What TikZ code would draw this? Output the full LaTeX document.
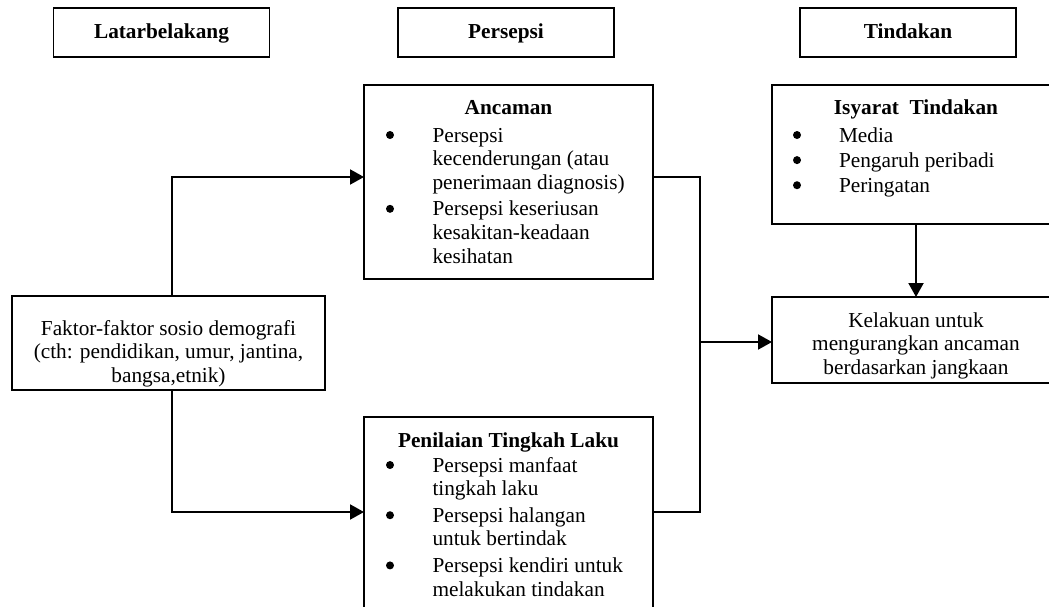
\documentclass[tikz,border=0pt]{standalone}
\usepackage{fontspec}
\setmainfont{Liberation Serif}
\usetikzlibrary{arrows.meta}
% round list marker, drawn as a filled dot on the text baseline
\newcommand{\listdot}{\tikz[baseline=0pt]\fill[black] (0pt,7pt) circle[radius=4pt];}
\begin{document}
\begin{tikzpicture}[x=1pt,y=-1pt,
  every node/.style={font=\fontsize{21.3}{23.6}\selectfont, inner sep=0pt, outer sep=0pt},
  box/.style={draw=black, line width=1.1pt, fill=none},
  headbox/.style={box, minimum width=216pt, minimum height=49pt,
    text height=15pt, text depth=2pt, font=\fontsize{21.3}{23.6}\selectfont\bfseries},
  body/.style={anchor=north west, align=left},
  title/.style={anchor=base, font=\fontsize{21.3}{23.6}\selectfont\bfseries},
  conn/.style={line width=2pt, draw=black},
  arrow/.style={conn, -{Triangle[length=14pt,width=15pt]}}]

\useasboundingbox (0,0) rectangle (1049,607);

% column headings
\node[headbox] (hlatar) at (161.5,32.5) {Latarbelakang};
\node[headbox] (hpersepsi) at (506,32.5) {Persepsi};
\node[headbox] (htindakan) at (908,32.5) {Tindakan};

% boxes
\node[box, minimum width=313pt, minimum height=94pt] (faktor) at (168.5,343) {};
\node[box, minimum width=289pt, minimum height=194pt] (ancaman) at (508.5,182) {};
\node[box, minimum width=289pt, minimum height=198pt] (penilaian) at (508.5,516) {};
\node[box, minimum width=288pt, minimum height=139pt] (isyarat) at (916,154.5) {};
\node[box, minimum width=288pt, minimum height=86pt] (kelakuan) at (916,340) {};

% texts
\node[anchor=north, align=center] (tfaktor) at (168.5,318.5)
  {\strut Faktor-faktor sosio demografi\\(cth: pendidikan, umur, jantina,\\bangsa,etnik)};

\node[title] (tancaman) at (508.5,115) {Ancaman};
\node[body] (bancaman) at (386,125.5)
  {\strut\makebox[46.5pt][l]{\listdot}Persepsi\\
   \hspace*{46.5pt}kecenderungan (atau\\
   \hspace*{46.5pt}penerimaan diagnosis)\\[3pt]
   \makebox[46.5pt][l]{\listdot}Persepsi keseriusan\\
   \hspace*{46.5pt}kesakitan-keadaan\\
   \hspace*{46.5pt}kesihatan};

\node[title] (tpenilaian) at (508.5,447) {Penilaian Tingkah Laku};
\node[body] (bpenilaian) at (386,455.5)
  {\strut\makebox[46.5pt][l]{\listdot}Persepsi manfaat\\
   \hspace*{46.5pt}tingkah laku\\[3pt]
   \makebox[46.5pt][l]{\listdot}Persepsi halangan\\
   \hspace*{46.5pt}untuk bertindak\\[3pt]
   \makebox[46.5pt][l]{\listdot}Persepsi kendiri untuk\\
   \hspace*{46.5pt}melakukan tindakan};

\node[title] (tisyarat) at (916,115) {Isyarat~~Tindakan};
\node[body] (bisyarat) at (793,125.5)
  {\strut\makebox[46pt][l]{\listdot}Media\\[1.5pt]
   \makebox[46pt][l]{\listdot}Pengaruh peribadi\\[1.5pt]
   \makebox[46pt][l]{\listdot}Peringatan};

\node[anchor=north, align=center] (tkelakuan) at (916,310.5)
  {\strut Kelakuan untuk\\mengurangkan ancaman\\berdasarkan jangkaan};

% connectors
\coordinate (ua) at (172,177);
\coordinate (la) at (172,512);
\coordinate (j) at (700,342);

\draw[arrow] (faktor.north -| ua) -- (ua) -- (ancaman.west |- ua);
\draw[arrow] (faktor.south -| la) -- (la) -- (penilaian.west |- la);
\draw[conn] (ancaman.east |- ua) -| (j) |- (penilaian.east |- la);
\draw[arrow] (j) -- (kelakuan.west |- j);
\draw[arrow] (isyarat.south) -- (kelakuan.north);
\end{tikzpicture}
\end{document}
